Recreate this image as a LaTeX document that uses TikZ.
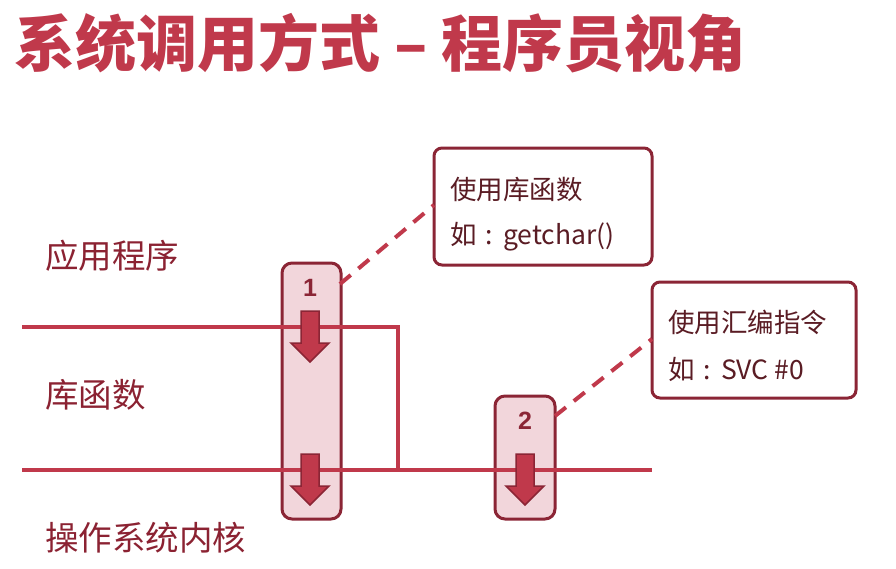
\documentclass[tikz,border=0pt]{standalone}
\usepackage{fontspec}
\newfontfamily\cjk{Noto Sans CJK SC}
\newfontfamily\numfont{Liberation Sans}
\definecolor{linered}{HTML}{C0394B}
\definecolor{darkred}{HTML}{8B2535}
\definecolor{boxpink}{HTML}{F2D6DB}
\definecolor{labelred}{HTML}{8B2232}
\definecolor{notetext}{HTML}{5A1C24}
\tikzset{
  layerline/.style={draw=linered, line width=4pt},
  stagebox/.style={draw=darkred, line width=3pt, fill=boxpink, rounded corners=10pt},
  notebox/.style={draw=darkred, line width=3pt, fill=white, rounded corners=8pt},
  leader/.style={draw=linered, line width=4pt, dash pattern=on 14pt off 10pt},
  layerlabel/.style={anchor=west, inner sep=0pt, font=\cjk\fontsize{33.5}{36}\selectfont, text=labelred},
  notetextstyle/.style={anchor=west, inner sep=0pt, font=\cjk\fontsize{26.5}{28}\selectfont, text=notetext},
  stepnum/.style={inner sep=0pt, font=\numfont\bfseries\fontsize{25}{26}\selectfont, text=darkred},
  blockarrow/.style={draw=darkred, line width=1.5pt, fill=linered, line join=miter}
}
% block arrow pointing down: #1 = centre x, #2 = top y
\newcommand\downblock[2]{%
  \draw[blockarrow] (#1-9,#2) -- (#1+9,#2) -- (#1+9,#2+32) -- (#1+19,#2+32)
    -- (#1,#2+51) -- (#1-19,#2+32) -- (#1-9,#2+32) -- cycle;}
\begin{document}
\begin{tikzpicture}[x=1pt,y=-1pt]
  \useasboundingbox (0,0) rectangle (896,568);

  % title
  \node[inner sep=0pt, font=\cjk\bfseries\fontsize{61}{64}\selectfont, text=linered, anchor=west]
    (title) at (14,43) {系统调用方式 – 程序员视角};

  % stage boxes
  \draw[stagebox] (282,263) rectangle (341,519);
  \draw[stagebox] (495,396) rectangle (555,519);
  \coordinate (b1) at (340,284);
  \coordinate (b2) at (555,416);

  % layer boundaries
  \coordinate (l1a) at (22,327);
  \coordinate (l1b) at (398,327);
  \coordinate (l1c) at (398,470);
  \coordinate (l2a) at (22,470);
  \coordinate (l2b) at (652,470);
  \draw[layerline] (l1a) -- (l1b) -- (l1c);
  \draw[layerline] (l2a) -- (l2b);

  % step numbers
  \node[stepnum] (n1) at (310,288) {1};
  \node[stepnum] (n2) at (525,421) {2};

  % block arrows
  \downblock{310}{311}
  \downblock{310}{454}
  \downblock{525}{454}

  % layer labels
  \node[layerlabel] (app) at (45,256) {应用程序};
  \node[layerlabel] (lib) at (45,395) {库函数};
  \node[layerlabel] (os) at (45,538) {操作系统内核};

  % notes
  \draw[notebox] (434,148) rectangle (652,265);
  \draw[notebox] (652,282) rectangle (856,398);
  \coordinate (c1) at (434,205);
  \coordinate (c2) at (652,339);
  \node[notetextstyle] (t1a) at (450,189) {使用库函数};
  \node[notetextstyle] (t1b) at (450,237) {如\hspace{9pt}:\hspace{10pt}getchar()};
  \node[notetextstyle] (t2a) at (668,322) {使用汇编指令};
  \node[notetextstyle] (t2b) at (668,369) {如\hspace{9pt}:\hspace{10pt}SVC \#0};

  % leaders
  \draw[leader] (b1) -- (c1);
  \draw[leader] (b2) -- (c2);
\end{tikzpicture}
\end{document}
